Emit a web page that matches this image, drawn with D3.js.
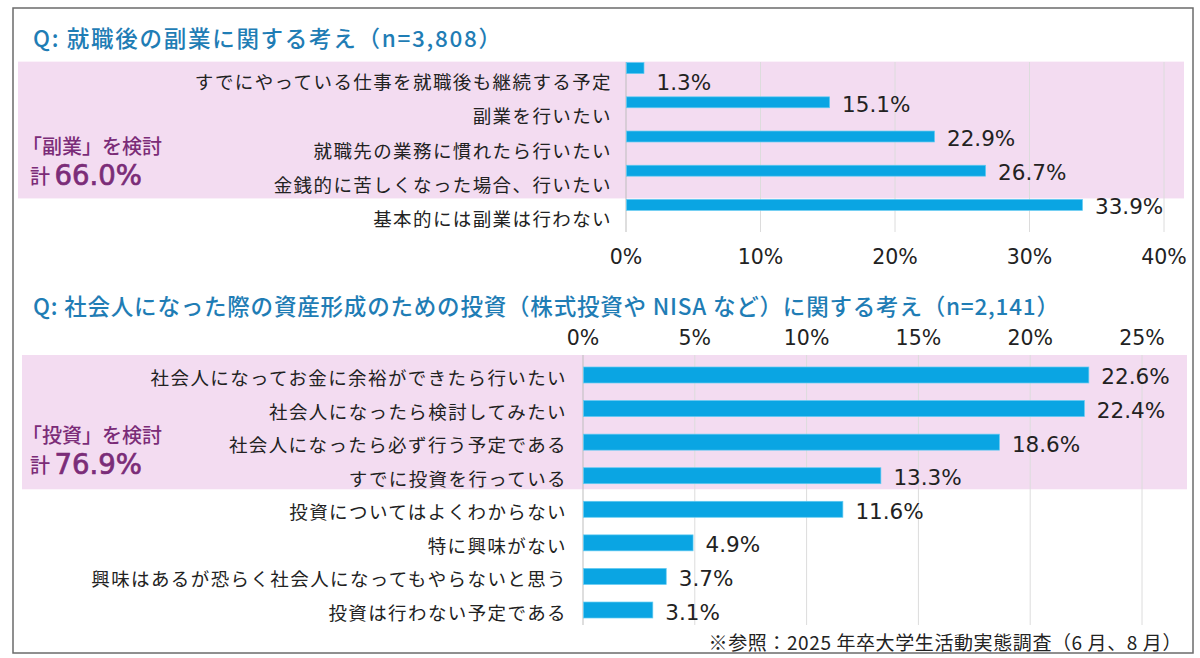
<!DOCTYPE html>
<html>
<head>
<meta charset="utf-8">
<script src="https://cdn.jsdelivr.net/npm/d3@7"></script>
<style>
  html, body { margin: 0; padding: 0; background: #fff; }
  svg { display: block; font-family: "Noto Sans CJK JP", "Noto Sans", sans-serif; }
</style>
</head>
<body>
<svg id="chart" width="1200" height="658"></svg>
<script>
// ---------- DATA ----------
const title1 = "Q: 就職後の副業に関する考え（n=3,808）";
const categories1 = [
  "すでにやっている仕事を就職後も継続する予定",
  "副業を行いたい",
  "就職先の業務に慣れたら行いたい",
  "金銭的に苦しくなった場合、行いたい",
  "基本的には副業は行わない"
];
const values1 = [1.3, 15.1, 22.9, 26.7, 33.9];
const highlighted1 = 4; // first N categories inside the "検討" group
const ticks1 = [0, 10, 20, 30, 40];
const groupLabel1 = ["「副業」を検討", "計 ", "66.0%"];

const title2 = "Q: 社会人になった際の資産形成のための投資（株式投資や NISA など）に関する考え（n=2,141）";
const categories2 = [
  "社会人になってお金に余裕ができたら行いたい",
  "社会人になったら検討してみたい",
  "社会人になったら必ず行う予定である",
  "すでに投資を行っている",
  "投資についてはよくわからない",
  "特に興味がない",
  "興味はあるが恐らく社会人になってもやらないと思う",
  "投資は行わない予定である"
];
const values2 = [22.6, 22.4, 18.6, 13.3, 11.6, 4.9, 3.7, 3.1];
const highlighted2 = 4;
const ticks2 = [0, 5, 10, 15, 20, 25];
const groupLabel2 = ["「投資」を検討", "計 ", "76.9%"];

const footnote = "※参照：2025 年卒大学生活動実態調査（6 月、8 月）";

// ---------- STYLE ----------
const C = {
  title: "#1f7db5",
  purple: "#7b2c78",
  pink: "#f3dcf1",
  bar: "#0aa5e3",
  barEdge: "#62cbf2",
  grid: "#dcdcdc",
  axis: "#bdbdbd",
  text: "#222",
  frame: "#6b6b6b"
};
const numFont = "'DejaVu Sans', 'Noto Sans', sans-serif";

const svg = d3.select("#chart");
svg.append("rect").attr("width", 1200).attr("height", 658).attr("fill", "#fff");
svg.append("rect").attr("x", 13).attr("y", 8).attr("width", 1180).attr("height", 645)
  .attr("fill", "none").attr("stroke", C.frame).attr("stroke-width", 1.5);

const fmt = v => v.toFixed(1) + "%";

function drawChart(o) {
  const g = svg.append("g");
  const x = d3.scaleLinear().domain(o.xDomain).range(o.xRange);
  const y = d3.scaleBand().domain(o.cats).range(o.yRange)
    .paddingInner(o.pad).paddingOuter(o.pad / 2);
  const step = y.step();

  // pink group band
  const bandTop = y(o.cats[0]) + o.bandTopOff;
  const bandBot = y(o.cats[o.hi - 1]) + step + o.bandTopOff;
  g.append("rect").attr("x", o.bandX0).attr("y", bandTop)
    .attr("width", o.bandX1 - o.bandX0).attr("height", bandBot - bandTop)
    .attr("fill", C.pink);

  // gridlines
  g.selectAll("line.grid").data(o.ticks).join("line")
    .attr("x1", d => x(d)).attr("x2", d => x(d))
    .attr("y1", o.gridY0).attr("y2", o.gridY1)
    .attr("stroke", d => d === 0 ? C.axis : C.grid).attr("stroke-width", 1);

  // tick labels
  g.selectAll("text.tick").data(o.ticks).join("text")
    .attr("x", d => x(d)).attr("y", o.tickY)
    .attr("text-anchor", "middle").attr("dominant-baseline", "central")
    .attr("font-size", 20.5).attr("fill", C.text)
    .attr("font-family", numFont)
    .text(d => d + "%");

  // bars
  g.selectAll("rect.bar").data(o.vals).join("rect")
    .attr("x", x(0) + 0.5)
    .attr("y", (d, i) => y(o.cats[i]))
    .attr("width", d => x(d) - x(0))
    .attr("height", y.bandwidth())
    .attr("fill", C.bar).attr("stroke", C.barEdge).attr("stroke-width", 0.7);

  // value labels
  g.selectAll("text.val").data(o.vals).join("text")
    .attr("x", d => x(d) + 13)
    .attr("y", (d, i) => y(o.cats[i]) + y.bandwidth() / 2 + o.valDy(i))
    .attr("dominant-baseline", "central")
    .attr("font-size", 21.5).attr("fill", C.text)
    .attr("font-family", numFont)
    .text(fmt);

  // category labels
  g.selectAll("text.cat").data(o.cats).join("text")
    .attr("x", o.catX)
    .attr("y", d => y(d) + y.bandwidth() / 2 + o.catDy)
    .attr("text-anchor", "end").attr("dominant-baseline", "central")
    .attr("font-size", 18.5).attr("letter-spacing", 1.4).attr("fill", C.text)
    .text(d => d);

  // title
  svg.append("text").attr("x", 33).attr("y", o.titleY)
    .attr("dominant-baseline", "central")
    .attr("font-size", 22.5).attr("font-weight", 500).attr("fill", C.title)
    .attr("textLength", o.titleLen).attr("lengthAdjust", "spacing")
    .text(o.title);

  // group annotation (two lines)
  const midY = (bandTop + bandBot) / 2;
  svg.append("text").attr("x", 22).attr("y", midY + o.annDy - 3)
    .attr("dominant-baseline", "central")
    .attr("font-size", 20).attr("font-weight", 500).attr("fill", C.purple)
    .text(o.group[0]);
  const t = svg.append("text").attr("x", 30).attr("y", midY + o.annDy + 27)
    .attr("dominant-baseline", "central")
    .attr("font-weight", 500).attr("fill", C.purple);
  t.append("tspan").attr("font-size", 20).text(o.group[1]);
  t.append("tspan").attr("font-size", 27.5).attr("font-family", numFont)
    .attr("stroke", C.purple).attr("stroke-width", 0.7)
    .text(o.group[2]);
}

drawChart({
  title: title1, titleY: 37, titleLen: 468,
  cats: categories1, vals: values1, hi: highlighted1, ticks: ticks1, group: groupLabel1,
  xDomain: [0, 40], xRange: [626, 1164],
  yRange: [51, 222], pad: 0.68,
  bandX0: 18, bandX1: 1184, bandTopOff: -1,
  gridY0: 62, gridY1: 232, tickY: 257,
  catX: 612, catDy: 13,
  valDy: i => (i === 0 ? 14 : 2),
  annDy: 18
});

drawChart({
  title: title2, titleY: 305, titleLen: 1026,
  cats: categories2, vals: values2, hi: highlighted2, ticks: ticks2, group: groupLabel2,
  xDomain: [0, 25], xRange: [583, 1142],
  yRange: [358.2, 626.8], pad: 0.524,
  bandX0: 22, bandX1: 1187, bandTopOff: -12,
  gridY0: 355, gridY1: 625, tickY: 338,
  catX: 567, catDy: 2,
  valDy: i => 2,
  annDy: 15
});

svg.append("text").attr("x", 1182).attr("y", 641)
  .attr("text-anchor", "end").attr("dominant-baseline", "central")
  .attr("font-size", 19).attr("letter-spacing", 0.6).attr("fill", C.text)
  .text(footnote);
</script>
</body>
</html>
